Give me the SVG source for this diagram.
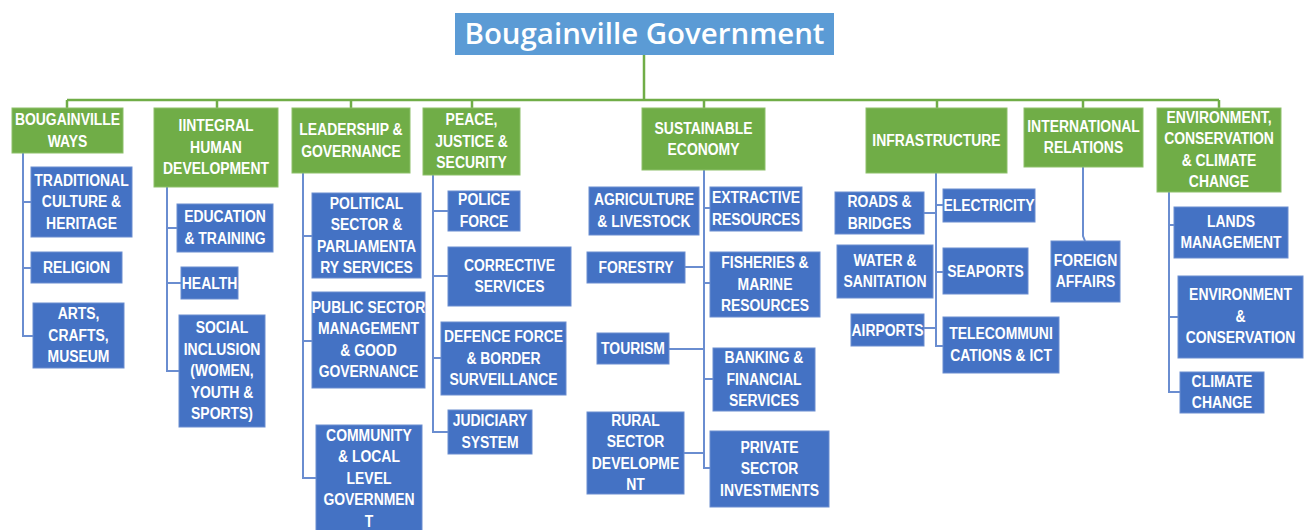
<svg xmlns="http://www.w3.org/2000/svg" width="1307" height="530" viewBox="0 0 1307 530">
<style>
.g{fill:#70AD47;stroke:#8DC06A;stroke-width:1}
.b{fill:#4472C4;stroke:#6A8DD0;stroke-width:1}
.t{fill:#FFFFFF;font-family:"Liberation Sans",Arial,sans-serif;font-weight:bold;font-size:16px;text-anchor:middle}
.title{fill:#FFFFFF;font-family:"Open Sans","Noto Sans",sans-serif;font-weight:600;font-size:28px;text-anchor:middle}
.cg{stroke:#70AD47;stroke-width:2.5;fill:none}
.cb{stroke:#6A8DD0;stroke-width:2;fill:none}
</style>
<rect width="1307" height="530" fill="#FFFFFF"/>
<g id="connectors">
<path class="cg" d="M644,55V100M67,100H1219M67,100V108M217,100V108M351,100V108M472,100V108M704,100V108M937,100V108M1083,100V108M1219,100V108"/>
<path class="cb" d="M23,153V336H33M23,202H31M23,268H31"/>
<path class="cb" d="M167,187V371H179M167,228H177M167,283H181"/>
<path class="cb" d="M303,173V478H316M303,236H312M303,341H312"/>
<path class="cb" d="M433,175V432H448M433,211H448M433,276H448M433,358H441"/>
<path class="cb" d="M704,170V468H710M685,267H704M669,349H704M684,453H704M704,208H710M704,283H710M704,379H713"/>
<path class="cb" d="M936,173V346H943M924,213H936M936,205H943M936,272H943M924,328H936"/>
<path class="cb" d="M1083,167V236L1085,241"/>
<path class="cb" d="M1169,192V392H1180M1169,225H1174M1169,317H1178"/>
</g>
<g id="title"><rect x="455" y="13" width="379" height="42" fill="#5B9BD5"/><text class="title" x="644.5" y="44" textLength="360" lengthAdjust="spacingAndGlyphs">Bougainville Government</text></g>
<g id="bougainville-ways"><rect class="g" x="12" y="108" width="111" height="45"/><text class="t" transform="translate(67.5 0) scale(0.87 1)"><tspan x="0" y="125.5">BOUGAINVILLE</tspan><tspan x="0" y="147">WAYS</tspan></text></g>
<g id="integral-human"><rect class="g" x="154" y="108" width="124" height="79"/><text class="t" transform="translate(216 0) scale(0.87 1)"><tspan x="0" y="131.5">IINTEGRAL</tspan><tspan x="0" y="153">HUMAN</tspan><tspan x="0" y="174.5">DEVELOPMENT</tspan></text></g>
<g id="leadership"><rect class="g" x="292" y="108" width="118" height="65"/><text class="t" transform="translate(351 0) scale(0.87 1)"><tspan x="0" y="135.5">LEADERSHIP &amp;</tspan><tspan x="0" y="157">GOVERNANCE</tspan></text></g>
<g id="peace"><rect class="g" x="423" y="108" width="97" height="67"/><text class="t" transform="translate(471.5 0) scale(0.87 1)"><tspan x="0" y="125.5">PEACE,</tspan><tspan x="0" y="147">JUSTICE &amp;</tspan><tspan x="0" y="168.5">SECURITY</tspan></text></g>
<g id="sustainable"><rect class="g" x="642" y="108" width="123" height="62"/><text class="t" transform="translate(703.5 0) scale(0.87 1)"><tspan x="0" y="134">SUSTAINABLE</tspan><tspan x="0" y="155.5">ECONOMY</tspan></text></g>
<g id="infrastructure"><rect class="g" x="866" y="108" width="141" height="65"/><text class="t" transform="translate(936.5 0) scale(0.87 1)"><tspan x="0" y="146">INFRASTRUCTURE</tspan></text></g>
<g id="international"><rect class="g" x="1024" y="108" width="119" height="59"/><text class="t" transform="translate(1083.5 0) scale(0.87 1)"><tspan x="0" y="132">INTERNATIONAL</tspan><tspan x="0" y="153.5">RELATIONS</tspan></text></g>
<g id="environment"><rect class="g" x="1157" y="108" width="124" height="84"/><text class="t" transform="translate(1219 0) scale(0.87 1)"><tspan x="0" y="123">ENVIRONMENT,</tspan><tspan x="0" y="144.5">CONSERVATION</tspan><tspan x="0" y="166">&amp; CLIMATE</tspan><tspan x="0" y="187.5">CHANGE</tspan></text></g>
<g id="traditional"><rect class="b" x="31" y="167" width="101" height="70"/><text class="t" transform="translate(81.5 0) scale(0.87 1)"><tspan x="0" y="186">TRADITIONAL</tspan><tspan x="0" y="207.5">CULTURE  &amp;</tspan><tspan x="0" y="229">HERITAGE</tspan></text></g>
<g id="religion"><rect class="b" x="31" y="252" width="91" height="31"/><text class="t" transform="translate(76.5 0) scale(0.87 1)"><tspan x="0" y="273.5">RELIGION</tspan></text></g>
<g id="arts"><rect class="b" x="33" y="303" width="91" height="65"/><text class="t" transform="translate(78.5 0) scale(0.87 1)"><tspan x="0" y="319.5">ARTS,</tspan><tspan x="0" y="341">CRAFTS,</tspan><tspan x="0" y="362.5">MUSEUM</tspan></text></g>
<g id="education"><rect class="b" x="177" y="204" width="96" height="48"/><text class="t" transform="translate(225 0) scale(0.87 1)"><tspan x="0" y="222.5">EDUCATION</tspan><tspan x="0" y="244">&amp; TRAINING</tspan></text></g>
<g id="health"><rect class="b" x="181" y="267" width="57" height="32"/><text class="t" transform="translate(209.5 0) scale(0.87 1)"><tspan x="0" y="289">HEALTH</tspan></text></g>
<g id="social"><rect class="b" x="179" y="315" width="86" height="112"/><text class="t" transform="translate(222 0) scale(0.87 1)"><tspan x="0" y="333.5">SOCIAL</tspan><tspan x="0" y="355">INCLUSION</tspan><tspan x="0" y="376.5">(WOMEN,</tspan><tspan x="0" y="398">YOUTH &amp;</tspan><tspan x="0" y="419.5">SPORTS)</tspan></text></g>
<g id="political"><rect class="b" x="312" y="193" width="109" height="85"/><text class="t" transform="translate(366.5 0) scale(0.87 1)"><tspan x="0" y="209">POLITICAL</tspan><tspan x="0" y="230.5">SECTOR &amp;</tspan><tspan x="0" y="252">PARLIAMENTA</tspan><tspan x="0" y="273.5">RY SERVICES</tspan></text></g>
<g id="public-sector"><rect class="b" x="312" y="292" width="113" height="96"/><text class="t" transform="translate(368.5 0) scale(0.87 1)"><tspan x="0" y="313">PUBLIC SECTOR</tspan><tspan x="0" y="334.5">MANAGEMENT</tspan><tspan x="0" y="356">&amp; GOOD</tspan><tspan x="0" y="377.5">GOVERNANCE</tspan></text></g>
<g id="community"><rect class="b" x="316" y="425" width="106" height="115"/><text class="t" transform="translate(369 0) scale(0.87 1)"><tspan x="0" y="441">COMMUNITY</tspan><tspan x="0" y="462.5">&amp; LOCAL</tspan><tspan x="0" y="484">LEVEL</tspan><tspan x="0" y="505.5">GOVERNMEN</tspan><tspan x="0" y="527">T</tspan></text></g>
<g id="police"><rect class="b" x="448" y="191" width="72" height="40"/><text class="t" transform="translate(484 0) scale(0.87 1)"><tspan x="0" y="205.5">POLICE</tspan><tspan x="0" y="227">FORCE</tspan></text></g>
<g id="corrective"><rect class="b" x="448" y="247" width="123" height="59"/><text class="t" transform="translate(509.5 0) scale(0.87 1)"><tspan x="0" y="271">CORRECTIVE</tspan><tspan x="0" y="292.5">SERVICES</tspan></text></g>
<g id="defence"><rect class="b" x="441" y="322" width="125" height="73"/><text class="t" transform="translate(503.5 0) scale(0.87 1)"><tspan x="0" y="342.5">DEFENCE FORCE</tspan><tspan x="0" y="364">&amp; BORDER</tspan><tspan x="0" y="385.5">SURVEILLANCE</tspan></text></g>
<g id="judiciary"><rect class="b" x="448" y="410" width="84" height="44"/><text class="t" transform="translate(490 0) scale(0.87 1)"><tspan x="0" y="426.5">JUDICIARY</tspan><tspan x="0" y="448">SYSTEM</tspan></text></g>
<g id="agriculture"><rect class="b" x="589" y="187" width="110" height="48"/><text class="t" transform="translate(644 0) scale(0.87 1)"><tspan x="0" y="205.5">AGRICULTURE</tspan><tspan x="0" y="227">&amp; LIVESTOCK</tspan></text></g>
<g id="forestry"><rect class="b" x="587" y="252" width="98" height="31"/><text class="t" transform="translate(636 0) scale(0.87 1)"><tspan x="0" y="273.5">FORESTRY</tspan></text></g>
<g id="tourism"><rect class="b" x="597" y="333" width="72" height="31"/><text class="t" transform="translate(633 0) scale(0.87 1)"><tspan x="0" y="354.5">TOURISM</tspan></text></g>
<g id="rural"><rect class="b" x="587" y="412" width="97" height="82"/><text class="t" transform="translate(635.5 0) scale(0.87 1)"><tspan x="0" y="426">RURAL</tspan><tspan x="0" y="447.5">SECTOR</tspan><tspan x="0" y="469">DEVELOPME</tspan><tspan x="0" y="490.5">NT</tspan></text></g>
<g id="extractive"><rect class="b" x="710" y="187" width="92" height="44"/><text class="t" transform="translate(756 0) scale(0.87 1)"><tspan x="0" y="203.5">EXTRACTIVE</tspan><tspan x="0" y="225">RESOURCES</tspan></text></g>
<g id="fisheries"><rect class="b" x="710" y="252" width="110" height="65"/><text class="t" transform="translate(765 0) scale(0.87 1)"><tspan x="0" y="268.5">FISHERIES &amp;</tspan><tspan x="0" y="290">MARINE</tspan><tspan x="0" y="311.5">RESOURCES</tspan></text></g>
<g id="banking"><rect class="b" x="713" y="348" width="102" height="63"/><text class="t" transform="translate(764 0) scale(0.87 1)"><tspan x="0" y="363.5">BANKING &amp;</tspan><tspan x="0" y="385">FINANCIAL</tspan><tspan x="0" y="406.5">SERVICES</tspan></text></g>
<g id="private"><rect class="b" x="710" y="431" width="119" height="76"/><text class="t" transform="translate(769.5 0) scale(0.87 1)"><tspan x="0" y="453">PRIVATE</tspan><tspan x="0" y="474.5">SECTOR</tspan><tspan x="0" y="496">INVESTMENTS</tspan></text></g>
<g id="roads"><rect class="b" x="835" y="192" width="89" height="42"/><text class="t" transform="translate(879.5 0) scale(0.87 1)"><tspan x="0" y="207.5">ROADS &amp;</tspan><tspan x="0" y="229">BRIDGES</tspan></text></g>
<g id="water"><rect class="b" x="837" y="245" width="96" height="53"/><text class="t" transform="translate(885 0) scale(0.87 1)"><tspan x="0" y="266">WATER &amp;</tspan><tspan x="0" y="287.5">SANITATION</tspan></text></g>
<g id="airports"><rect class="b" x="851" y="314" width="73" height="32"/><text class="t" transform="translate(887.5 0) scale(0.87 1)"><tspan x="0" y="336">AIRPORTS</tspan></text></g>
<g id="electricity"><rect class="b" x="943" y="189" width="92" height="33"/><text class="t" transform="translate(989 0) scale(0.87 1)"><tspan x="0" y="211.5">ELECTRICITY</tspan></text></g>
<g id="seaports"><rect class="b" x="943" y="248" width="85" height="46"/><text class="t" transform="translate(985.5 0) scale(0.87 1)"><tspan x="0" y="277">SEAPORTS</tspan></text></g>
<g id="telecom"><rect class="b" x="943" y="317" width="116" height="56"/><text class="t" transform="translate(1001 0) scale(0.87 1)"><tspan x="0" y="339.5">TELECOMMUNI</tspan><tspan x="0" y="361">CATIONS &amp; ICT</tspan></text></g>
<g id="foreign"><rect class="b" x="1051" y="241" width="69" height="61"/><text class="t" transform="translate(1085.5 0) scale(0.87 1)"><tspan x="0" y="266">FOREIGN</tspan><tspan x="0" y="287.5">AFFAIRS</tspan></text></g>
<g id="lands"><rect class="b" x="1174" y="207" width="114" height="51"/><text class="t" transform="translate(1231 0) scale(0.87 1)"><tspan x="0" y="227">LANDS</tspan><tspan x="0" y="248.5">MANAGEMENT</tspan></text></g>
<g id="env-conservation"><rect class="b" x="1178" y="276" width="125" height="82"/><text class="t" transform="translate(1240.5 0) scale(0.87 1)"><tspan x="0" y="300.5">ENVIRONMENT</tspan><tspan x="0" y="322">&amp;</tspan><tspan x="0" y="343.5">CONSERVATION</tspan></text></g>
<g id="climate"><rect class="b" x="1180" y="372" width="84" height="41"/><text class="t" transform="translate(1222 0) scale(0.87 1)"><tspan x="0" y="387">CLIMATE</tspan><tspan x="0" y="408.5">CHANGE</tspan></text></g>
</svg>
